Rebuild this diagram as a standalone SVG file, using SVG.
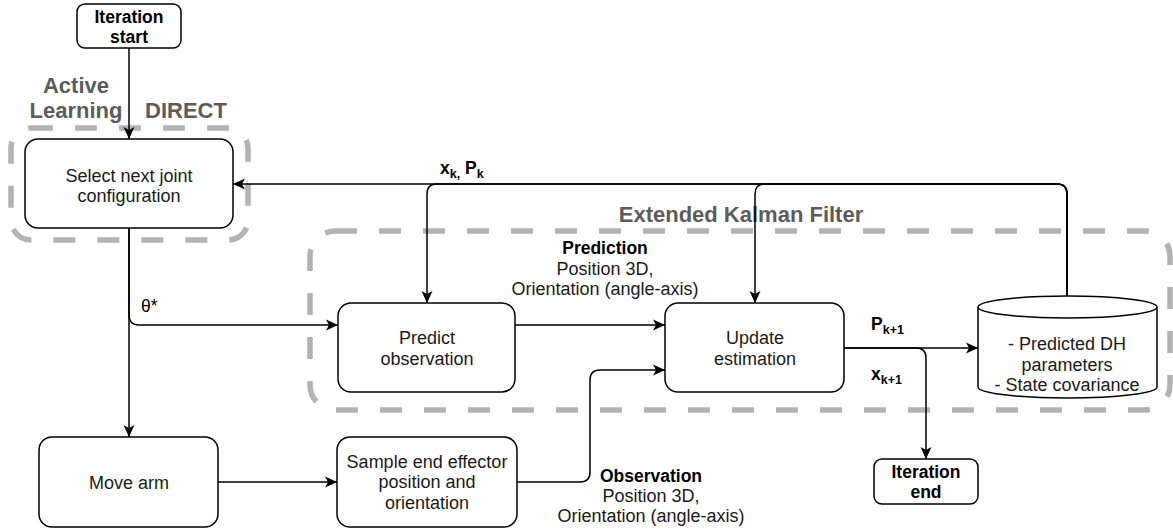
<svg xmlns="http://www.w3.org/2000/svg" width="1173" height="531" viewBox="0 0 1173 531">
<defs>
<marker id="arr" markerUnits="userSpaceOnUse" markerWidth="13" markerHeight="12" refX="12" refY="6" orient="auto">
<path d="M0,0.5 L12,6 L0,11.5 L3,6 z" fill="#000"/>
</marker>
<style>
.node{fill:#fff;stroke:#000;stroke-width:1.5}
.t{font-family:"Liberation Sans",Arial,sans-serif;font-size:18px;fill:#1a1a1a;text-anchor:middle}
.b{font-weight:bold;fill:#000;font-size:17.5px}
.lab{font-family:"Liberation Sans",Arial,sans-serif;font-size:17.5px;fill:#000}
.grp{fill:none;stroke:#B3B3B3;stroke-width:5.5;stroke-dasharray:22 22}
.gt{font-family:"Liberation Sans",Arial,sans-serif;font-size:22px;font-weight:bold;fill:#5c5c5c}
.c{fill:none;stroke:#000;stroke-width:1.5}
.ca{fill:none;stroke:#000;stroke-width:1.5;marker-end:url(#arr)}
</style>
</defs>
<rect width="1173" height="531" fill="#fff"/>

<g id="group-active-learning">
<rect class="grp" x="11" y="128" width="237" height="112" rx="20"/>
<text class="gt" x="76" y="93" text-anchor="middle">Active</text>
<text class="gt" x="76" y="118" text-anchor="middle">Learning</text>
<text class="gt" x="186" y="118" text-anchor="middle">DIRECT</text>
</g>

<g id="group-ekf">
<rect class="grp" x="310" y="231" width="860" height="179" rx="25"/>
<text class="gt" x="741" y="222" text-anchor="middle">Extended Kalman Filter</text>
</g>

<g id="connectors">
<path class="ca" d="M129,48 V139"/>
<path class="ca" d="M1067,296 V194 Q1067,184 1057,184 H233"/>
<path class="ca" d="M1067,296 V194 Q1067,184 1057,184 H437 Q427,184 427,194 V303"/>
<path class="ca" d="M1067,296 V194 Q1067,184 1057,184 H765 Q755,184 755,194 V303"/>
<path class="ca" d="M129,228 V437"/>
<path class="ca" d="M129,228 V315 Q129,325 139,325 H338"/>
<path class="ca" d="M515,325 H665"/>
<path class="ca" d="M218,482 H337"/>
<path class="ca" d="M517,482 H580 Q590,482 590,472 V380 Q590,370 600,370 H665"/>
<path class="ca" d="M844,348 H978"/>
<path class="ca" d="M844,348 H916 Q926,348 926,358 V459"/>
<text class="lab b" x="440" y="174">x<tspan font-size="12.5" dy="4">k,</tspan><tspan dy="-4"> P</tspan><tspan font-size="12.5" dy="4">k</tspan></text>
<text class="lab" x="141" y="312" font-size="18">θ*</text>
<text class="t b" x="605" y="254">Prediction</text>
<text class="t" x="605" y="275">Position 3D,</text>
<text class="t" x="605" y="295">Orientation (angle-axis)</text>
<text class="t b" x="651" y="482">Observation</text>
<text class="t" x="651" y="502">Position 3D,</text>
<text class="t" x="651" y="522">Orientation (angle-axis)</text>
<text class="lab b" x="871" y="330">P<tspan font-size="12.5" dy="4">k+1</tspan></text>
<text class="lab b" x="871" y="380">x<tspan font-size="12.5" dy="4">k+1</tspan></text>
</g>

<g id="iteration-start">
<rect class="node" x="77" y="4" width="104" height="44" rx="8"/>
<text class="t b" x="129" y="23">Iteration</text>
<text class="t b" x="129" y="43">start</text>
</g>

<g id="select-config">
<rect class="node" x="25" y="139" width="208" height="89" rx="13"/>
<text class="t" x="129" y="182">Select next joint</text>
<text class="t" x="129" y="202">configuration</text>
</g>

<g id="predict-observation">
<rect class="node" x="338" y="303" width="177" height="89" rx="13"/>
<text class="t" x="427" y="344">Predict</text>
<text class="t" x="427" y="365">observation</text>
</g>

<g id="update-estimation">
<rect class="node" x="665" y="303" width="179" height="89" rx="13"/>
<text class="t" x="755" y="344">Update</text>
<text class="t" x="755" y="365">estimation</text>
</g>

<g id="state-store">
<path class="node" d="M978,307 A89.5,11 0 0 1 1157,307 V387 A89.5,11 0 0 1 978,387 Z"/>
<path class="c" d="M978,307 A89.5,11 0 0 0 1157,307"/>
<text class="t" x="1067" y="350">- Predicted DH</text>
<text class="t" x="1067" y="371">parameters</text>
<text class="t" x="1067" y="391">- State covariance</text>
</g>

<g id="move-arm">
<rect class="node" x="39" y="437" width="179" height="90" rx="13"/>
<text class="t" x="129" y="489">Move arm</text>
</g>

<g id="sample-effector">
<rect class="node" x="337" y="437" width="180" height="90" rx="13"/>
<text class="t" x="427" y="468">Sample end effector</text>
<text class="t" x="427" y="488">position and</text>
<text class="t" x="427" y="509">orientation</text>
</g>

<g id="iteration-end">
<rect class="node" x="874" y="459" width="104" height="45" rx="8"/>
<text class="t b" x="926" y="478">Iteration</text>
<text class="t b" x="926" y="498">end</text>
</g>
</svg>
